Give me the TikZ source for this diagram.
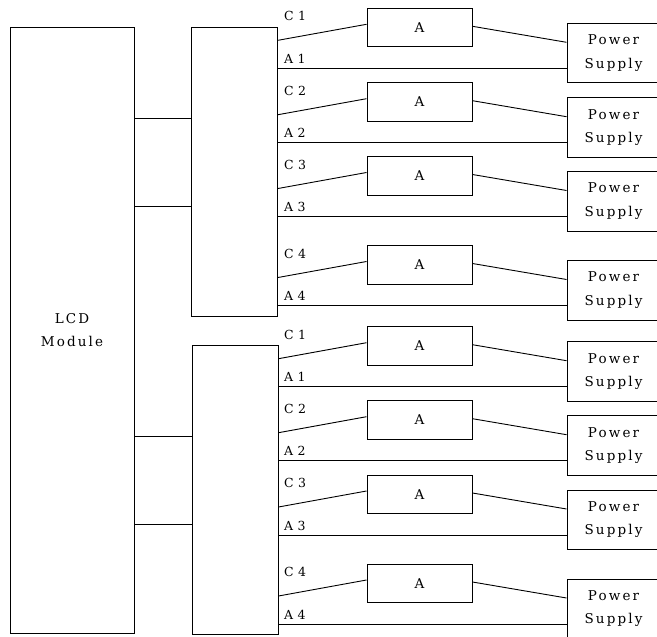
\documentclass[tikz,border=0pt]{standalone}
\usepackage{fontspec}
\newfontfamily\spacedfont[LetterSpace=16]{DejaVu Serif}
\newfontfamily\pinspaced[LetterSpace=35]{DejaVu Serif}
\newcommand{\boxfont}{\spacedfont\fontsize{13.5}{23.5}\selectfont}
\newcommand{\pinfont}{\pinspaced\fontsize{12.5}{14}\selectfont}
\tikzset{gbox/.style={
    rectangle,
    draw,
    line width=1pt,
    inner sep=0pt,
    align=center,
    font=\boxfont
  },
  lcdbox/.style={gbox,minimum width=124pt,minimum height=606pt},
  drvbox/.style={gbox,minimum width=86pt,minimum height=289pt},
  ampbox/.style={gbox,minimum width=105pt,minimum height=38.5pt},
  psbox/.style={gbox,minimum width=93pt,minimum height=59.5pt},
  pinlabel/.style={anchor=base west,inner sep=0pt,font=\pinfont},
  wire/.style={line width=0.9pt},
}
\begin{document}
\begin{tikzpicture}[x=1pt,y=-1pt]
  \useasboundingbox (0,0) rectangle (657,637);
  \clip (0,0) rectangle (657,637);
  \node [lcdbox] (lcd) at (72,330) {LCD\\Module};
  \node [drvbox] (drvU) at (234.5,171.5) {};
  \node [drvbox] (drvL) at (235,489.5) {};
  % lcd to drivers
  \draw[wire] (lcd.east |- 0,118) -- (drvU.west |- 0,118);
  \draw[wire] (lcd.east |- 0,206) -- (drvU.west |- 0,206);
  \draw[wire] (lcd.east |- 0,436) -- (drvL.west |- 0,436);
  \draw[wire] (lcd.east |- 0,524) -- (drvL.west |- 0,524);
  % channels
  \foreach \ty/\n/\s in {8.3/1/U,82.7/2/U,156.5/3/U,245.5/4/U,
                         326.7/1/L,400.7/2/L,475/3/L,564/4/L} {
    \node [ampbox] (amp\s\n) at (419.5,\ty+19.25) {A};
    \node [psbox] (ps\s\n) at (613.5,\ty+44.75) {Power\\Supply};
    \node [pinlabel] (c\s\n) at (284,\ty+12.5) {C\n};
    \node [pinlabel] (a\s\n) at (284,\ty+55) {A\n};
    \draw[wire] (drv\s.east |- 0,\ty+32) -- (amp\s\n.west |- 0,\ty+16);
    \draw[wire] (amp\s\n.east |- 0,\ty+18) -- (ps\s\n.west |- 0,\ty+34);
    \draw[wire] (drv\s.east |- 0,\ty+60) -- (ps\s\n.west |- 0,\ty+60);
  }
\end{tikzpicture}
\end{document}
